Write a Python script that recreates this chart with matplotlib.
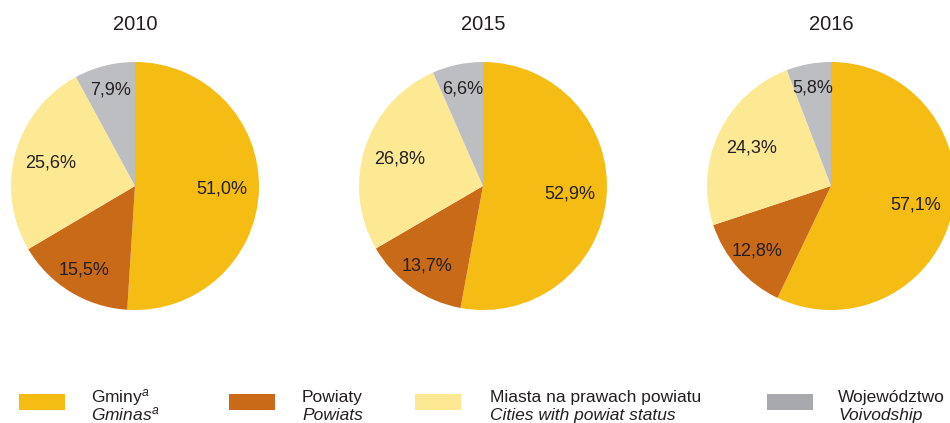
import numpy as np
import matplotlib.pyplot as plt
from matplotlib.patches import Rectangle

plt.rcParams['font.family'] = ['Liberation Sans', 'DejaVu Sans']
plt.rcParams['mathtext.fontset'] = 'custom'
plt.rcParams['mathtext.rm'] = 'Liberation Sans'
plt.rcParams['mathtext.it'] = 'Liberation Sans:italic'

# dane
years = ['2010', '2015', '2016']
gminy = [51.0, 52.9, 57.1]
powiaty = [15.5, 13.7, 12.8]
miasta = [25.6, 26.8, 24.3]
wojewodztwo = [7.9, 6.6, 5.8]

labels_pl = ['Gminy$^{a}$', 'Powiaty', 'Miasta na prawach powiatu', 'Województwo']
labels_en = ['$\\it{Gminas}^{a}$', 'Powiats', 'Cities with powiat status', 'Voivodship']

colors = ['#F5BC14', '#C96A18', '#FDE994', '#BDBEC2']
legend_colors = ['#F5BC14', '#C96A18', '#FDE994', '#A8A9AD']
text_col = '#231F20'

W, H = 950, 423
fig = plt.figure(figsize=(W / 100, H / 100), dpi=100)

centers_x = [135, 483, 831]
cy = 186
r = 124
label_dist = [0.70, 0.79, 0.71, 0.80]

for i, year in enumerate(years):
    vals = [gminy[i], powiaty[i], miasta[i], wojewodztwo[i]]
    ax = fig.add_axes([(centers_x[i] - r) / W, (H - cy - r) / H, 2 * r / W, 2 * r / H])
    wedges, _ = ax.pie(vals, colors=colors, startangle=90, counterclock=False,
                       wedgeprops=dict(linewidth=0))
    ax.set_xlim(-1, 1)
    ax.set_ylim(-1, 1)
    for w, v, d in zip(wedges, vals, label_dist):
        ang = np.deg2rad((w.theta1 + w.theta2) / 2)
        ax.text(d * np.cos(ang), d * np.sin(ang), f'{v:.1f}%'.replace('.', ','),
                ha='center', va='center', fontsize=13, color=text_col)
    fig.text(centers_x[i] / W, 1 - 24 / H, year, ha='center', va='center',
             fontsize=14.5, color=text_col)

# legenda
patch_x = [19, 229, 415, 767]
text_x = [91, 302, 490, 838]
for px, tx, c, lp, le in zip(patch_x, text_x, legend_colors, labels_pl, labels_en):
    fig.add_artist(Rectangle((px / W, 1 - 410 / H), 46 / W, 16 / H,
                             transform=fig.transFigure, color=c, lw=0))
    fig.text(tx / W, 1 - 402 / H, lp, ha='left', va='baseline', fontsize=12.5, color=text_col)
    fig.text(tx / W, 1 - 420 / H, le, ha='left', va='baseline', fontsize=12.5,
             style='italic', color=text_col)

fig.savefig('out.png', dpi=100, facecolor='white')
